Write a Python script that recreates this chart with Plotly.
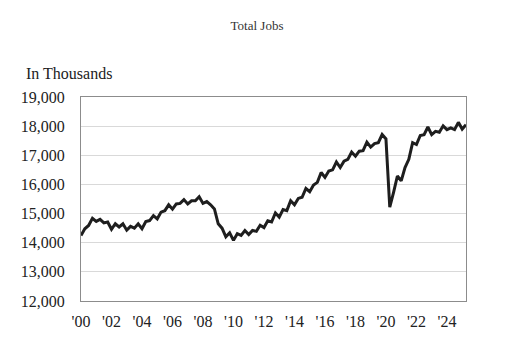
import plotly.graph_objects as go

years = list(range(2000, 2026))
quarters = [f"{y}Q{q}" for y in years for q in range(1, 5)][:102]

jobs = [
    14250, 14480, 14590, 14840, 14730, 14800, 14680, 14710,
    14460, 14650, 14540, 14650, 14430, 14560, 14500, 14650,
    14480, 14730, 14760, 14930, 14820, 15050, 15100, 15300,
    15150, 15330, 15350, 15480, 15330, 15440, 15440, 15580,
    15350, 15410, 15300, 15160, 14650, 14500, 14200, 14340,
    14080, 14310, 14250, 14420, 14280, 14420, 14390, 14600,
    14520, 14750, 14710, 15020, 14880, 15140, 15100, 15440,
    15300, 15520, 15560, 15860, 15750, 15980, 16070, 16410,
    16240, 16460, 16500, 16770, 16580, 16800, 16860, 17110,
    16970, 17140, 17160, 17450, 17280, 17400, 17430, 17710,
    17560, 15220, 15730, 16290, 16120, 16580, 16860, 17430,
    17370, 17680, 17710, 17970, 17710, 17820, 17790, 18010,
    17880, 17940, 17880, 18130, 17900, 18050,
]

tick_quarters = [f"{y}Q1" for y in range(2000, 2025, 2)]
tick_labels = ["'" + str(y)[2:] for y in range(2000, 2025, 2)]
y_ticks = list(range(12000, 19001, 1000))
y_labels = [f"{v:,}" for v in y_ticks]

FONT = "Liberation Serif, Times New Roman, DejaVu Serif, serif"

fig = go.Figure(
    go.Scatter(
        x=quarters, y=jobs, mode="lines",
        line=dict(color="#1e1e1e", width=3),
        hoverinfo="skip",
    )
)

fig.update_layout(
    width=513, height=342,
    margin=dict(l=81, r=47, t=97, b=39),
    paper_bgcolor="white", plot_bgcolor="white",
    showlegend=False,
    font=dict(family=FONT, color="#222"),
    title=dict(
        text="Total Jobs", x=257 / 513, xanchor="center",
        y=1 - 25 / 342, yanchor="middle", xref="container", yref="container",
        font=dict(family=FONT, size=13, color="#333"),
    ),
    annotations=[
        dict(
            text="In Thousands", xref="paper", yref="paper",
            x=(24 - 81) / 385, y=(303 - 73) / 206,
            xanchor="left", yanchor="middle", showarrow=False,
            font=dict(family=FONT, size=16, color="#222"),
        )
    ],
)

fig.update_xaxes(
    type="category", range=[0, 101],
    tickmode="array", tickvals=tick_quarters, ticktext=tick_labels,
    showgrid=False, showline=True, linecolor="#8c8c8c", linewidth=1, mirror=True,
    ticks="outside", ticklen=6, tickcolor="rgba(0,0,0,0)",
    tickfont=dict(family=FONT, size=16, color="#222"),
)

fig.update_yaxes(
    range=[12000, 19000],
    tickmode="array", tickvals=y_ticks, ticktext=y_labels,
    showgrid=True, gridcolor="#d9d9d9", gridwidth=1,
    showline=True, linecolor="#8c8c8c", linewidth=1, mirror=True,
    zeroline=False,
    ticks="outside", ticklen=12, tickcolor="rgba(0,0,0,0)",
    tickfont=dict(family=FONT, size=16, color="#222"),
)

fig.write_html("out.html")
